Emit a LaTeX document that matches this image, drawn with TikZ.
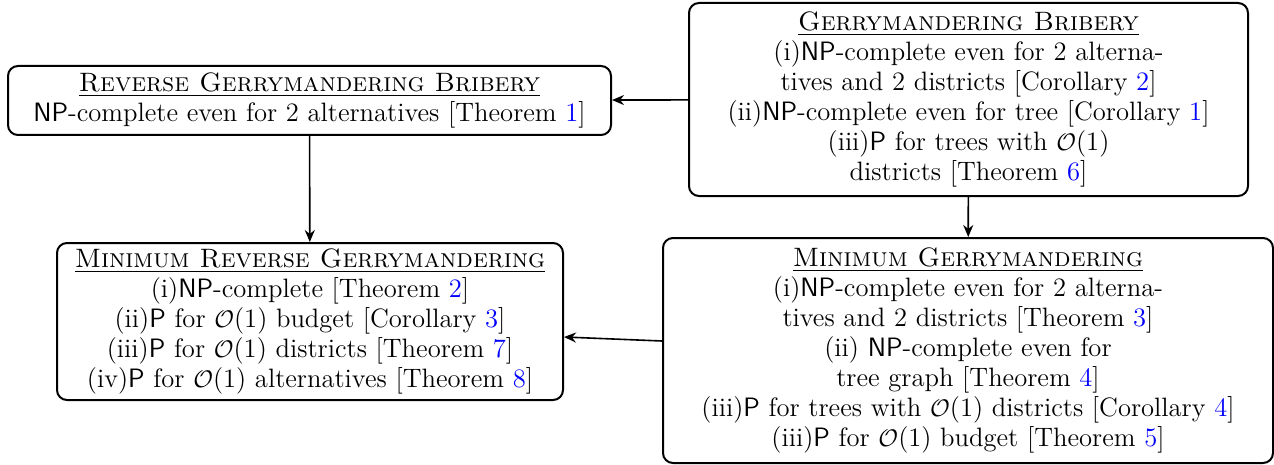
\documentclass[tikz,border=0pt]{standalone}
\usetikzlibrary{arrows.meta}
\newcommand{\NPc}{\textsf{NP}}
\newcommand{\Pc}{\textsf{P}}
\newcommand{\Oc}{{\fontsize{12}{12}\selectfont$\mathcal{O}$}(1)}
\newcommand{\rf}[1]{\textcolor{blue}{#1}}
\newcommand{\ttl}[1]{\underline{\textsc{#1}}}
\begin{document}
\begin{tikzpicture}[x=0.5pt,y=-0.5pt,
  box/.style={draw, line width=1pt, rounded corners=5pt, inner sep=0pt, align=center,
    font=\fontsize{13.3}{15}\selectfont},
  conn/.style={-{Stealth[length=6pt,width=5pt]}, line width=0.8pt}]
\useasboundingbox (0,0) rectangle (1274,465);
\node[box, minimum width=301.5pt, minimum height=34.5pt] (rgb) at (309.5,100.5)
  {\ttl{Reverse Gerrymandering Bribery}\\
   \NPc-complete even for 2 alternatives [Theorem \rf{1}]};
\node[box, minimum width=279.5pt, minimum height=96.5pt] (gb) at (968.5,99.5)
  {\ttl{Gerrymandering Bribery}\\
   (i)\NPc-complete even for 2 alterna-\\
   tives and 2 districts [Corollary \rf{2}]\\
   (ii)\NPc-complete even for tree [Corollary \rf{1}]\\
   (iii)\Pc{} for trees with \Oc\\
   districts [Theorem \rf{6}]};
\node[box, minimum width=253pt, minimum height=78.5pt] (mrg) at (310,321.5)
  {\ttl{Minimum Reverse Gerrymandering}\\
   (i)\NPc-complete [Theorem \rf{2}]\\
   (ii)\Pc{} for \Oc{} budget [Corollary \rf{3}]\\
   (iii)\Pc{} for \Oc{} districts [Theorem \rf{7}]\\
   (iv)\Pc{} for \Oc{} alternatives [Theorem \rf{8}]};
\node[box, minimum width=305pt, minimum height=112.5pt] (mg) at (968,350.5)
  {\ttl{Minimum Gerrymandering}\\
   (i)\NPc-complete even for 2 alterna-\\
   tives and 2 districts [Theorem \rf{3}]\\
   (ii) \NPc-complete even for\\
   tree graph [Theorem \rf{4}]\\
   (iii)\Pc{} for trees with \Oc{} districts [Corollary \rf{4}]\\
   (iii)\Pc{} for \Oc{} budget [Theorem \rf{5}]};
\draw[conn] (gb) -- (rgb);
\draw[conn] (rgb) -- (mrg);
\draw[conn] (gb) -- (mg);
\draw[conn] ([yshift=4.75pt]mg.west) -- ([yshift=-7.75pt]mrg.east);
\end{tikzpicture}
\end{document}
